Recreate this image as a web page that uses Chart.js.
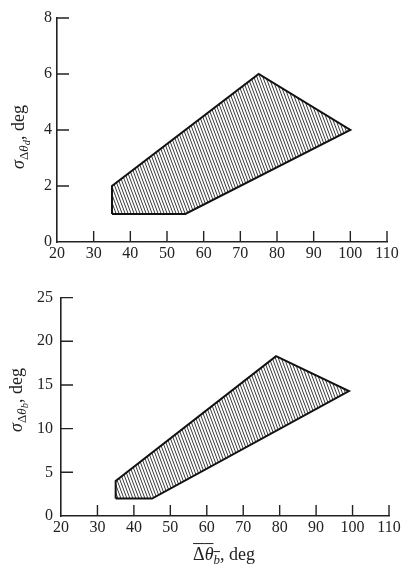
<!DOCTYPE html>
<html>
  <head>
    <meta charset="utf-8">
    <script src="https://cdn.jsdelivr.net/npm/chart.js"></script>
    <style>
      body { margin: 0; background: #fff; width: 409px; height: 568px; position: relative; overflow: hidden; }
      canvas { position: absolute; left: 0; }
      .lbl { position: absolute; font-family: "Liberation Serif", serif; font-size: 18px; color: #222; white-space: nowrap; }
      .rot { transform: translate(-50%, -50%) rotate(-90deg); }
      .hor { transform: translate(-50%, -50%); }
      i { font-style: italic; }
      sub { font-size: 72%; vertical-align: -0.3em; }
      sub sub { font-size: 80%; vertical-align: -0.25em; }
    </style>
  </head>
  <body>
    <canvas id="top" width="409" height="280" style="top:0"></canvas>
    <canvas id="bot" width="409" height="288" style="top:280px"></canvas>
    <div class="lbl rot" style="left:20px; top:137px;"><i>σ</i><sub>Δ<i>θ</i><sub><i>d</i></sub></sub>, deg</div>
    <div class="lbl rot" style="left:18px; top:400px;"><i>σ</i><sub>Δ<i>θ</i><sub><i>b</i></sub></sub>, deg</div>
    <div class="lbl hor" style="left:224px; top:556px;"><span style="text-decoration: overline;">Δ<i>θ</i><sub><i>b</i></sub></span>, deg</div>

    <script>
      // 上のグラフ (σΔθd)
      const topX = [35, 35, 75, 100, 55];
      const topY = [1, 2, 6, 4, 1];
      // 下のグラフ (σΔθb)
      const botX = [35, 35, 79, 99, 45];
      const botY = [2, 4, 18.3, 14.3, 2];

      const xTicks = [20, 30, 40, 50, 60, 70, 80, 90, 100, 110];
      const topYTicks = [0, 2, 4, 6, 8];
      const botYTicks = [0, 5, 10, 15, 20, 25];

      // 斜線のパターン (急な斜め線)
      function hatch() {
        const w = 3, h = 8;
        const c = document.createElement('canvas');
        c.width = w; c.height = h;
        const g = c.getContext('2d');
        g.fillStyle = '#fff';
        g.fillRect(0, 0, w, h);
        g.strokeStyle = '#3a3a3a';
        g.lineWidth = 1;
        g.beginPath();
        [-w, 0, w].forEach(o => {
          g.moveTo(o - w, -h); g.lineTo(o + 2 * w, 2 * h);
        });
        g.stroke();
        return g.createPattern(c, 'repeat');
      }

      // 内側の目盛り
      const innerTicks = {
        id: 'innerTicks',
        afterDatasetsDraw(chart) {
          const { ctx, chartArea, scales } = chart;
          ctx.save();
          ctx.strokeStyle = '#222';
          ctx.lineWidth = 1.4;
          ctx.beginPath();
          scales.x.ticks.forEach(t => {
            if (t.value === scales.x.min) return;
            const px = scales.x.getPixelForValue(t.value);
            ctx.moveTo(px, chartArea.bottom);
            ctx.lineTo(px, chartArea.bottom - 11);
          });
          scales.y.ticks.forEach(t => {
            if (t.value === scales.y.min) return;
            const py = scales.y.getPixelForValue(t.value);
            ctx.moveTo(chartArea.left, py);
            ctx.lineTo(chartArea.left + 12, py);
          });
          ctx.stroke();
          ctx.restore();
        }
      };

      function makeChart(id, xs, ys, yTicks, box) {
        const pts = xs.map((x, i) => ({ x: x, y: ys[i] }));
        pts.push(pts[0]);
        const font = { family: 'Liberation Serif', size: 16 };
        return new Chart(document.getElementById(id), {
          type: 'scatter',
          data: {
            datasets: [{
              data: pts,
              showLine: true,
              fill: 'shape',
              backgroundColor: hatch(),
              borderColor: '#111',
              borderWidth: 2,
              pointRadius: 0,
              tension: 0
            }]
          },
          options: {
            responsive: false,
            animation: false,
            layout: { padding: { top: box.top, right: box.right, left: 0, bottom: 0 } },
            plugins: { legend: { display: false }, tooltip: { enabled: false } },
            scales: {
              x: {
                min: xTicks[0], max: xTicks[xTicks.length - 1],
                afterBuildTicks: s => { s.ticks = xTicks.map(v => ({ value: v })); },
                afterFit: s => { s.height = box.xh; },
                grid: { drawOnChartArea: false, drawTicks: false },
                border: { color: '#222', width: 1.6 },
                ticks: { font: font, color: '#222', padding: 2, maxRotation: 0, autoSkip: false }
              },
              y: {
                min: yTicks[0], max: yTicks[yTicks.length - 1],
                afterBuildTicks: s => { s.ticks = yTicks.map(v => ({ value: v })); },
                afterFit: s => { s.width = box.left; },
                grid: { drawOnChartArea: false, drawTicks: false },
                border: { color: '#222', width: 1.6 },
                ticks: { font: font, color: '#222', padding: box.pad, autoSkip: false }
              }
            }
          },
          plugins: [innerTicks]
        });
      }

      makeChart('top', topX, topY, topYTicks, { top: 18, right: 22, xh: 38, left: 57, pad: 5 });
      makeChart('bot', botX, botY, botYTicks, { top: 9, right: 20, xh: 52, left: 61, pad: 8 });
    </script>
  </body>
</html>
